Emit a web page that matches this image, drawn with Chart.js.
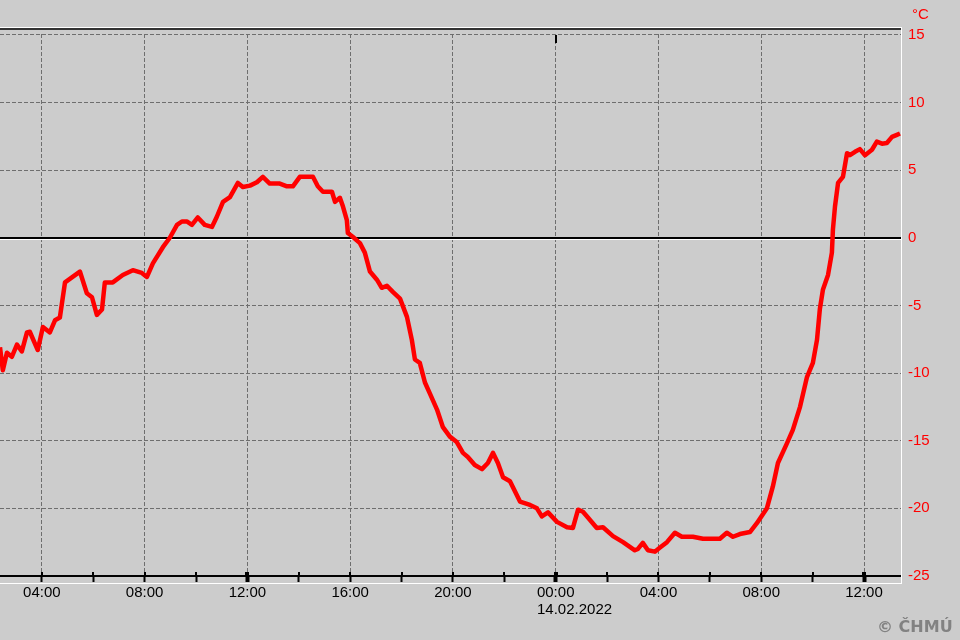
<!DOCTYPE html>
<html lang="cs">
<head>
<meta charset="utf-8">
<title>Teplota vzduchu</title>
<script src="https://cdn.jsdelivr.net/npm/chart.js@4.4.1/dist/chart.umd.min.js"></script>
<style>
  html, body { margin: 0; padding: 0; background: #cccccc; }
  .wrap { position: relative; width: 960px; height: 640px; overflow: hidden; }
  canvas { display: block; }
  .txt { position: absolute; font-family: Arial, "Liberation Sans", sans-serif; font-size: 15px; line-height: 15px; white-space: nowrap; }
  .unit { left: 912px; top: 6px; color: #ff0000; }
  .date { left: 537px; top: 601px; color: #000; }
  .copy { left: 877px; top: 619px; color: #828282; font-family: "DejaVu Sans", sans-serif; font-weight: bold; font-size: 16px; line-height: 16px; }
</style>
</head>
<body>
<div class="wrap">
  <canvas id="tempChart" width="960" height="640"></canvas>
  <div class="txt unit">°C</div>
  <div class="txt date">14.02.2022</div>
  <div class="txt copy">© ČHMÚ</div>
</div>
<script>
// hodiny od 13.02.2022 00:00
const hours = [
  2.37, 2.48, 2.64, 2.83, 3.03, 3.22, 3.42, 3.53, 3.84, 4.04, 4.31, 4.51, 4.70, 4.90,
  5.48, 5.75, 5.95, 6.14, 6.34, 6.45, 6.76, 7.15, 7.54, 7.89, 8.09, 8.32, 8.71, 8.98,
  9.26, 9.45, 9.64, 9.84, 10.07, 10.34, 10.62, 10.81, 11.05, 11.32, 11.63, 11.82, 12.10,
  12.37, 12.60, 12.87, 13.26, 13.54, 13.77, 14.04, 14.32, 14.55, 14.74, 14.94, 15.29,
  15.41, 15.60, 15.72, 15.87, 15.91, 16.11, 16.38, 16.57, 16.77, 17.04, 17.23, 17.43,
  17.66, 17.94, 18.21, 18.40, 18.52, 18.71, 18.91, 19.10, 19.38, 19.61, 19.88, 20.15,
  20.39, 20.58, 20.85, 21.13, 21.36, 21.56, 21.75, 21.95, 22.22, 22.61, 23.00, 23.27,
  23.46, 23.70, 24.05, 24.44, 24.67, 24.87, 25.06, 25.22, 25.60, 25.84, 26.23, 26.62,
  27.08, 27.20, 27.39, 27.59, 27.86, 28.06, 28.33, 28.64, 28.91, 29.34, 29.73, 30.39,
  30.66, 30.90, 31.17, 31.56, 31.83, 32.22, 32.45, 32.65, 33.00, 33.23, 33.51, 33.78,
  34.01, 34.17, 34.28, 34.40, 34.60, 34.75, 34.79, 34.87, 34.99, 35.18, 35.34, 35.45,
  35.65, 35.84, 36.04, 36.31, 36.50, 36.70, 36.89, 37.09, 37.28, 37.40
];
const temps = [
  -8.1, -9.8, -8.5, -8.8, -7.9, -8.4, -7.0, -6.95, -8.3, -6.6, -7.0, -6.1, -5.9, -3.3,
  -2.5, -4.1, -4.4, -5.7, -5.3, -3.3, -3.3, -2.75, -2.4, -2.6, -2.9, -1.9, -0.7, 0.0,
  0.95, 1.2, 1.2, 0.95, 1.5, 0.95, 0.8, 1.55, 2.65, 3.0, 4.05, 3.75, 3.85,
  4.1, 4.5, 4.0, 4.0, 3.8, 3.8, 4.5, 4.5, 4.5, 3.8, 3.4, 3.4,
  2.65, 2.95, 2.3, 1.3, 0.35, 0.05, -0.4, -1.1, -2.5, -3.1, -3.7, -3.55,
  -4.0, -4.5, -5.85, -7.55, -9.0, -9.25, -10.7, -11.5, -12.7, -14.0, -14.7, -15.1,
  -15.9, -16.2, -16.8, -17.1, -16.65, -15.9, -16.65, -17.7, -18.0, -19.5, -19.75, -20.0,
  -20.6, -20.3, -21.0, -21.4, -21.45, -20.1, -20.25, -20.6, -21.45, -21.4, -22.05, -22.5,
  -23.1, -23.0, -22.55, -23.1, -23.2, -22.9, -22.5, -21.8, -22.1, -22.1, -22.25, -22.25,
  -21.8, -22.1, -21.9, -21.75, -21.1, -20.0, -18.4, -16.65, -15.2, -14.2, -12.5, -10.3,
  -9.25, -7.55, -5.3, -3.85, -2.75, -1.1, 0.6, 2.3, 4.05, 4.5, 6.25, 6.1,
  6.35, 6.55, 6.1, 6.5, 7.1, 6.95, 7.0, 7.45, 7.6, 7.7
];
const hourTicks = [4, 6, 8, 10, 12, 14, 16, 18, 20, 22, 24, 26, 28, 30, 32, 34, 36];
const labelHours = [4, 8, 12, 16, 20, 24, 28, 32, 36];
const timeLabels = ['04:00', '08:00', '12:00', '16:00', '20:00', '00:00', '04:00', '08:00', '12:00'];
const tempTicks = [15, 10, 5, 0, -5, -10, -15, -20, -25];
const dayStarts = [24];
const xRange = [2.37, 37.44];
const yRange = [-25, 15.5];

const BG = '#cccccc';
const GRID = '#6e6e6e';
const FONT = 'Arial, "Liberation Sans", sans-serif';

// ramecek, stinove linky a znacka zacatku dne
const framePlugin = {
    id: 'frame',
    beforeDatasetsDraw(chart) {
        const { ctx, chartArea: a, scales: { x, y } } = chart;
        const yTop = Math.round(y.getPixelForValue(tempTicks[0]));
        const y0 = Math.round(y.getPixelForValue(0));
        ctx.save();
        ctx.fillStyle = BG;
        ctx.fillRect(a.left, a.top, a.right - a.left, yTop - a.top - 1);
        ctx.fillStyle = '#ffffff';
        ctx.fillRect(a.left, y0 + 1, a.right - a.left, 1);
        ctx.fillStyle = '#000000';
        dayStarts.forEach(h => {
            const px = Math.round(x.getPixelForValue(h));
            ctx.fillRect(px - 1, yTop, 2, 8);
        });
        ctx.restore();
    },
    afterDraw(chart) {
        const { ctx, chartArea: a, scales: { x } } = chart;
        const w = a.right - a.left;
        ctx.save();
        ctx.fillStyle = '#ffffff';
        ctx.fillRect(a.left, a.top - 1, w, 1);
        ctx.fillRect(a.right, a.top - 1, 1, a.bottom - a.top + 8);
        ctx.fillRect(a.left, a.bottom + 7, w + 1, 1);
        ctx.fillStyle = '#333333';
        ctx.fillRect(a.left, a.top, w, 2);
        // kratke preslahy znacek nad osou
        ctx.fillStyle = '#000000';
        hourTicks.forEach(h => {
            const px = Math.round(x.getPixelForValue(h));
            const tw = h % 12 === 0 ? 4 : 2;
            ctx.fillRect(px - tw / 2, a.bottom - 4, tw, 4);
        });
        ctx.restore();
    }
};

document.addEventListener('DOMContentLoaded', () => {
    const ctx = document.getElementById('tempChart').getContext('2d');
    new Chart(ctx, {
        type: 'line',
        data: {
            datasets: [{
                label: 'Teplota',
                data: hours.map((h, i) => ({ x: h, y: temps[i] })),
                borderColor: '#ff0000',
                borderWidth: 4.5,
                borderJoinStyle: 'round',
                pointRadius: 0,
                tension: 0,
                fill: false
            }]
        },
        options: {
            responsive: false,
            animation: false,
            events: [],
            layout: { padding: { top: 28, left: 0, right: 0, bottom: 0 } },
            plugins: {
                legend: { display: false },
                tooltip: { enabled: false }
            },
            scales: {
                x: {
                    type: 'linear',
                    position: 'bottom',
                    min: xRange[0],
                    max: xRange[1],
                    afterBuildTicks: s => { s.ticks = hourTicks.map(v => ({ value: v })); },
                    afterFit: s => { s.height = 64; },
                    grid: {
                        color: c => (c.tick && c.tick.value % 4 === 0) ? GRID : 'rgba(0,0,0,0)',
                        lineWidth: 1,
                        drawTicks: true,
                        tickLength: 6,
                        tickColor: '#000000',
                        tickWidth: c => (c.tick && c.tick.value % 12 === 0) ? 4 : 2
                    },
                    border: { display: true, color: '#000000', width: 2, dash: [4, 2] },
                    ticks: {
                        autoSkip: false,
                        maxRotation: 0,
                        padding: 2,
                        color: '#000000',
                        font: { family: FONT, size: 15 },
                        callback: v => {
                            const i = labelHours.indexOf(v);
                            return i >= 0 ? timeLabels[i] : '';
                        }
                    }
                },
                y: {
                    type: 'linear',
                    position: 'right',
                    min: yRange[0],
                    max: yRange[1],
                    afterBuildTicks: s => { s.ticks = tempTicks.map(v => ({ value: v })); },
                    afterFit: s => { s.width = 59; },
                    grid: {
                        color: c => {
                            if (!c.tick) return GRID;
                            if (c.tick.value === 0) return '#000000';
                            if (c.tick.value === tempTicks[tempTicks.length - 1]) return 'rgba(0,0,0,0)';
                            return GRID;
                        },
                        lineWidth: c => (c.tick && c.tick.value === 0) ? 2 : 1,
                        drawTicks: false
                    },
                    border: {
                        display: false,
                        dash: c => (c.tick && c.tick.value === 0) ? [] : [4, 2]
                    },
                    ticks: {
                        padding: 7,
                        color: '#ff0000',
                        font: { family: FONT, size: 15 },
                        callback: v => String(v)
                    }
                }
            }
        },
        plugins: [framePlugin]
    });
});
</script>
</body>
</html>
